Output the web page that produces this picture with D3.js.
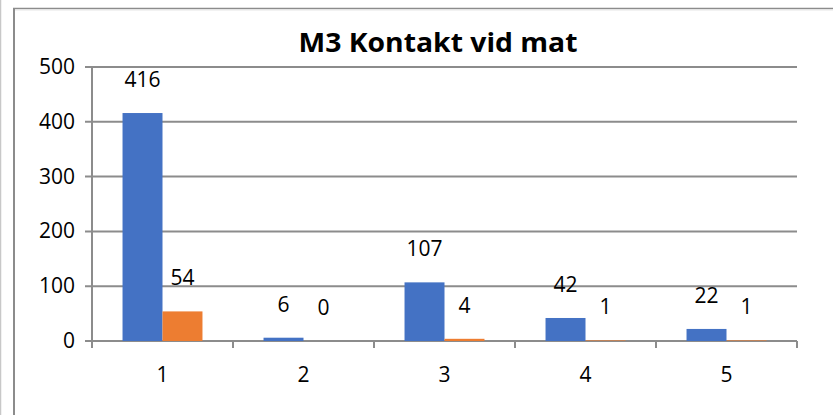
<!DOCTYPE html>
<html>
<head>
<meta charset="utf-8">
<script src="https://cdn.jsdelivr.net/npm/d3@7"></script>
<style>
  body { margin: 0; background: #fff; }
  svg { display: block; }
  text { font-family: "Open Sans", "Noto Sans", sans-serif; fill: #000; }
</style>
</head>
<body>
<div id="wrapper"></div>
<script>
// chart data
const categories = ["1", "2", "3", "4", "5"]
const seriesA = [416, 6, 107, 42, 22]
const seriesB = [54, 0, 4, 1, 1]
const yTicks = [0, 100, 200, 300, 400, 500]
const title = "M3 Kontakt vid mat"

function drawChart() {
    let dimensions = {
        width: 833,
        height: 415,
        margin: { top: 67, right: 36, bottom: 74, left: 92 },
    }
    dimensions.boundedWidth = dimensions.width - dimensions.margin.left - dimensions.margin.right
    dimensions.boundedHeight = dimensions.height - dimensions.margin.top - dimensions.margin.bottom

    const svg = d3.select("#wrapper")
        .append("svg")
            .attr("width", dimensions.width)
            .attr("height", dimensions.height)

    // outer frame
    svg.append("line").attr("x1", 0.5).attr("x2", 0.5).attr("y1", 0).attr("y2", 415)
        .attr("stroke", "#c8c8c8").attr("stroke-width", 1.5)
    svg.append("line").attr("x1", 14).attr("x2", 14).attr("y1", 8).attr("y2", 415)
        .attr("stroke", "#8c8c8c").attr("stroke-width", 2)
    svg.append("line").attr("x1", 13).attr("x2", 833).attr("y1", 8.5).attr("y2", 8.5)
        .attr("stroke", "#8c8c8c").attr("stroke-width", 1.5)
    svg.append("line").attr("x1", 15).attr("x2", 833).attr("y1", 10).attr("y2", 10)
        .attr("stroke", "#e6e6e6").attr("stroke-width", 1)

    const bounds = svg.append("g")
        .attr("transform", `translate(${dimensions.margin.left},${dimensions.margin.top})`)

    const x = d3.scaleBand()
        .domain(categories)
        .range([0, dimensions.boundedWidth])
        .padding(0)

    const groupW = x.bandwidth() * 0.567
    const x1 = d3.scaleBand()
        .domain(["a", "b"])
        .range([(x.bandwidth() - groupW) / 2, (x.bandwidth() + groupW) / 2])

    const y = d3.scaleLinear()
        .domain([0, 500])
        .range([dimensions.boundedHeight, 0])

    // gridlines
    bounds.append("g")
        .selectAll("line")
        .data(yTicks)
        .join("line")
        .attr("x1", -7)
        .attr("x2", dimensions.boundedWidth)
        .attr("y1", d => y(d))
        .attr("y2", d => y(d))
        .attr("stroke", "#8c8c8c")
        .attr("stroke-width", 2)

    // y axis line
    bounds.append("line")
        .attr("x1", 0).attr("x2", 0)
        .attr("y1", 0).attr("y2", dimensions.boundedHeight + 7)
        .attr("stroke", "#8c8c8c").attr("stroke-width", 2)

    // x tick marks at category boundaries
    const boundaries = categories.map(c => x(c)).concat([dimensions.boundedWidth])
    bounds.append("g")
        .selectAll("line")
        .data(boundaries)
        .join("line")
        .attr("x1", d => d).attr("x2", d => d)
        .attr("y1", dimensions.boundedHeight)
        .attr("y2", dimensions.boundedHeight + 7)
        .attr("stroke", "#8c8c8c").attr("stroke-width", 2)

    // y tick labels
    bounds.append("g")
        .selectAll("text")
        .data(yTicks)
        .join("text")
        .attr("x", -17)
        .attr("y", d => y(d) + 7)
        .attr("text-anchor", "end")
        .style("font-size", "21px")
        .text(d => d)

    // x tick labels
    bounds.append("g")
        .selectAll("text")
        .data(categories)
        .join("text")
        .attr("x", d => x(d) + x.bandwidth() / 2)
        .attr("y", dimensions.boundedHeight + 41)
        .attr("text-anchor", "middle")
        .style("font-size", "21px")
        .text(d => d)

    // bars
    const rows = categories.map((c, i) => ({ cat: c, a: seriesA[i], b: seriesB[i] }))
    const colors = { a: "#4472C4", b: "#ED7D31" }

    const groups = bounds.selectAll(".group")
        .data(rows)
        .join("g")
        .attr("transform", d => `translate(${x(d.cat)},0)`)

    groups.selectAll("rect")
        .data(d => ["a", "b"].map(k => ({ key: k, value: d[k] })))
        .join("rect")
        .attr("x", d => x1(d.key))
        .attr("width", x1.bandwidth())
        .attr("y", d => y(d.value))
        .attr("height", d => y(0) - y(d.value))
        .attr("fill", d => colors[d.key])

    groups.selectAll("text")
        .data(d => ["a", "b"].map(k => ({ key: k, value: d[k] })))
        .join("text")
        .attr("x", d => x1(d.key) + x1.bandwidth() / 2)
        .attr("y", d => y(d.value) - 26)
        .attr("text-anchor", "middle")
        .style("font-size", "21px")
        .text(d => d.value)

    // title
    svg.append("text")
        .attr("x", 438)
        .attr("y", 52)
        .attr("text-anchor", "middle")
        .style("font-size", "27px")
        .style("font-weight", "bold")
        .attr("textLength", 279)
        .attr("lengthAdjust", "spacingAndGlyphs")
        .text(title)
}

drawChart();
</script>
</body>
</html>
